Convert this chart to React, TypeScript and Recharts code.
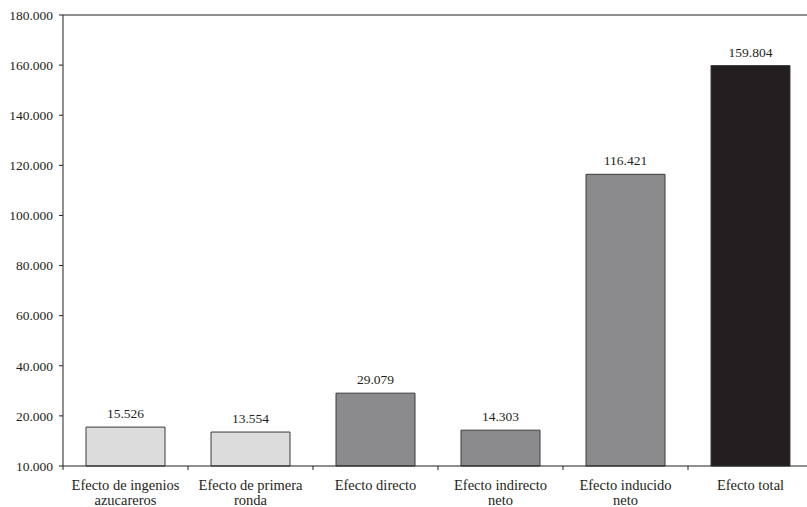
import { BarChart, Bar, XAxis, YAxis, Cell, LabelList, ReferenceLine } from 'recharts';

const categories = [
  'Efecto de ingenios azucareros',
  'Efecto de primera ronda',
  'Efecto directo',
  'Efecto indirecto neto',
  'Efecto inducido neto',
  'Efecto total',
];
const values = [15526, 13554, 29079, 14303, 116421, 159804];
const valueLabels = ['15.526', '13.554', '29.079', '14.303', '116.421', '159.804'];
const yTicks = [0, 20000, 40000, 60000, 80000, 100000, 120000, 140000, 160000, 180000];
const yTickLabels = ['10.000', '20.000', '40.000', '60.000', '80.000', '100.000', '120.000', '140.000', '160.000', '180.000'];
const barColors = ['#dcdcdd', '#dcdcdd', '#8b8b8e', '#8b8b8e', '#8b8b8e', '#231f20'];

const data = categories.map((name, i) => ({ name, value: values[i], label: valueLabels[i] }));

const FONT = '"Liberation Serif", "Times New Roman", serif';
const INK = '#231f20';

// split a category name into lines of at most 18 characters
const wrap = (text: string) => {
  const lines: string[] = [];
  let cur = '';
  text.split(' ').forEach((w) => {
    const next = cur ? cur + ' ' + w : w;
    if (next.length > 18 && cur) {
      lines.push(cur);
      cur = w;
    } else {
      cur = next;
    }
  });
  if (cur) lines.push(cur);
  return lines;
};

const CategoryTick = (props: any) => {
  const { x, y, payload } = props;
  const half = payload.offset || 62.5;
  const lines = wrap(payload.value);
  return (
    <g>
      <line x1={x - half} y1={466} x2={x - half} y2={470} stroke={INK} strokeWidth={1} />
      <text x={x} y={y + 16} textAnchor="middle" fill={INK} fontSize={14.5} fontFamily={FONT}>
        {lines.map((l, i) => (
          <tspan key={i} x={x} dy={i === 0 ? 0 : 15}>
            {l}
          </tspan>
        ))}
      </text>
    </g>
  );
};

const App = () => {
  return (
    <div style={{ position: 'absolute', left: 0, top: 0, width: 807, height: 507, overflow: 'hidden', background: '#fff' }}>
      <BarChart
        width={820}
        height={507}
        data={data}
        margin={{ top: 15, right: 7, left: 0, bottom: 0 }}
        barCategoryGap="18.4%"
      >
        <XAxis
          dataKey="name"
          height={41}
          axisLine={{ stroke: INK }}
          tickLine={false}
          interval={0}
          tick={<CategoryTick />}
        />
        <YAxis
          width={63}
          domain={[0, 180000]}
          ticks={yTicks}
          interval={0}
          axisLine={{ stroke: INK }}
          tickLine={{ stroke: INK }}
          tickSize={4}
          tickMargin={6}
          tick={{ fill: INK, fontSize: 13.5, fontFamily: FONT }}
          tickFormatter={(v: number) => yTickLabels[yTicks.indexOf(v)]}
        />
        <ReferenceLine y={180000} stroke={INK} strokeWidth={1} ifOverflow="visible" />
        <Bar dataKey="value" stroke="#3a3a3a" strokeWidth={1} isAnimationActive={false}>
          {data.map((d, i) => (
            <Cell key={d.name} fill={barColors[i]} />
          ))}
          <LabelList
            dataKey="label"
            position="top"
            offset={9}
            style={{ fill: INK, fontSize: 13.5, fontFamily: FONT }}
          />
        </Bar>
      </BarChart>
    </div>
  );
};

export default App;
